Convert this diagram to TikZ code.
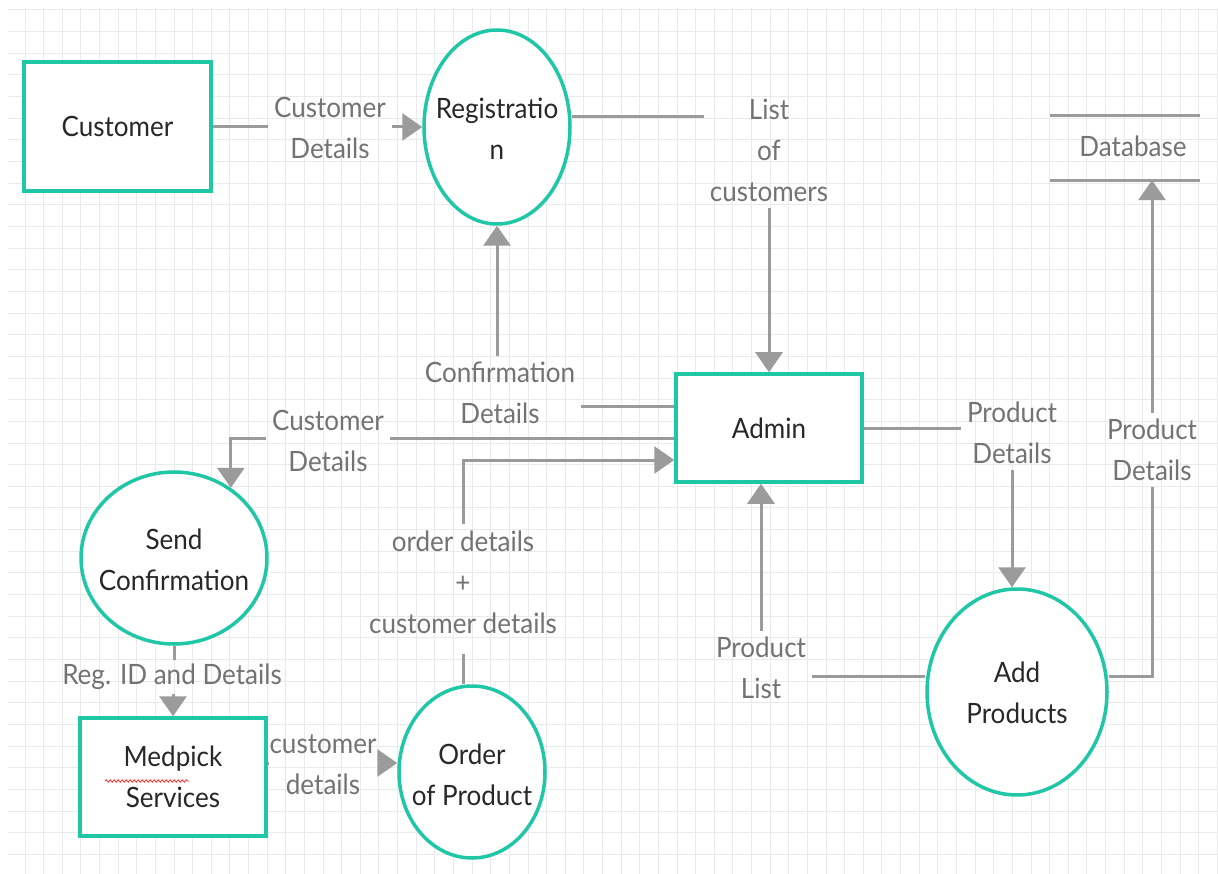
\documentclass[tikz,border=0pt]{standalone}
\usepackage{fontspec}
\setmainfont{Lato}[FakeStretch=0.93]
\usetikzlibrary{arrows.meta,shapes.geometric,decorations.pathmorphing}
\definecolor{teal1}{RGB}{32,199,166}
\definecolor{flowgrey}{RGB}{155,155,155}
\definecolor{labelgrey}{RGB}{115,115,115}
\definecolor{inkgrey}{RGB}{40,40,40}
\definecolor{gridgrey}{RGB}{234,234,234}

\begin{document}
\begin{tikzpicture}[x=1pt,y=-1pt,
  every node/.style={font=\fontsize{28}{41}\selectfont},
  entity/.style={draw=teal1, line width=3.5pt, fill=white, rectangle, inner sep=0pt, text=inkgrey, align=center},
  proc/.style={draw=teal1, line width=3.5pt, fill=white, ellipse, inner sep=0pt},
  ntext/.style={text=inkgrey, align=center, inner sep=0pt},
  flowlabel/.style={text=labelgrey, align=center, inner sep=6pt},
  store/.style={inner sep=0pt, minimum width=150pt, minimum height=64pt},
  flow/.style={draw=flowgrey, line width=3pt},
  arrowflow/.style={flow, -{Triangle[width=27pt,length=20pt]}},
  gridline/.style={draw=gridgrey, line width=1pt}
]
% canvas and grid
\fill[white] (0,0) rectangle (1218,874);
\useasboundingbox (0,0) rectangle (1218,874);
\foreach \i in {0,...,64} \draw[gridline] ({25+18.63*\i},8) -- ({25+18.63*\i},874);
\foreach \j in {0,...,39} \draw[gridline] (8,{10+21.65*\j}) -- (1218,{10+21.65*\j});

% external entities
\node[entity, minimum width=187pt, minimum height=129pt] (cust) at (117.5,126.5) {Customer};
\node[entity, minimum width=186pt, minimum height=108pt] (admin) at (769,428) {Admin};
\node[entity, minimum width=186pt, minimum height=118pt] (med) at (173,777) {Medpick\\Services};
\draw[red!75, line width=0.9pt, decorate, decoration={snake, amplitude=1.2pt, segment length=4pt}]
  (105,781) -- (189,781);

% processes
\node[proc, minimum width=146pt, minimum height=194pt] (reg) at (497,127) {};
\node[ntext] (regt) at (497,129) {Registratio\\n};
\node[proc, minimum width=186pt, minimum height=172pt] (send) at (174,558) {};
\node[ntext] (sendt) at (174,560) {Send\\Confirmation};
\node[proc, minimum width=146pt, minimum height=172pt] (order) at (472,772) {};
\node[ntext] (ordert) at (472,775) {Order\\of Product};
\node[proc, minimum width=180pt, minimum height=206pt] (add) at (1017,692) {};
\node[ntext] (addt) at (1017,693) {Add\\Products};

% data store
\node[store] (db) at (1125,148) {};
\node[text=labelgrey, inner sep=0pt] (dbt) at (1133,146) {Database};
\draw[flow] (db.north west) -- (db.north east);
\draw[flow] (db.south west) -- (db.south east);

% flow labels
\node[flowlabel] (lcd)  at (330,128) {Customer\\Details};
\node[flowlabel] (lloc) at (769,150) {List\\of\\customers};
\node[flowlabel] (lcon) at (500,393) {Confirmation\\Details};
\node[flowlabel] (lcd2) at (328,441) {Customer\\Details};
\node[flowlabel] (lod)  at (463,582) {order details\\+\\customer details};
\node[flowlabel, inner sep=4pt] (lreg) at (172,677) {Reg. ID and Details};
\node[flowlabel, inner sep=1pt] (lcd3) at (323,765) {customer\\details};
\node[flowlabel] (lpd)  at (1012,433) {Product\\Details};
\node[flowlabel] (lpl)  at (761,668) {Product\\List};
\node[flowlabel] (lpd2) at (1152,450) {Product\\Details};

% data flows
\draw[flow] (cust.east) -- (cust.east -| lcd.west);
\draw[arrowflow] (lcd.east |- reg.west) -- (reg.west);

\draw[flow] ([yshift=10pt]reg.east) -- ([yshift=10pt]reg.east -| lloc.west);
\draw[arrowflow] (lloc.south) -- (admin.north);

\draw[flow] ([yshift=22pt]admin.west) -- ([yshift=22pt]admin.west -| lcon.east);
\draw[arrowflow] (lcon.north -| reg.south) -- (reg.south);

\draw[flow] ([yshift=-10pt]admin.west) -- ([yshift=-10pt]admin.west -| lcd2.east);
\draw[arrowflow] ([yshift=-10pt]admin.west -| lcd2.west) -| (send.51);

\draw[flow] (lod.south |- order.north) -- ([yshift=-14pt]lod.south);
\draw[arrowflow] (lod.north) |- ([yshift=-32pt]admin.west);

\draw[flow] (send.south) -- (send.south |- lreg.north);
\draw[arrowflow] (lreg.south -| med.north) -- (med.north);

\draw[flow] ([yshift=14pt]med.east) -- ([yshift=14pt]med.east -| lcd3.west);
\draw[arrowflow] ([yshift=14pt]med.east -| lcd3.east) -- ([yshift=14pt]med.east -| order.west);

\draw[flow] (admin.east) -- (admin.east -| lpd.west);
\draw[arrowflow] (lpd.south) -- (lpd.south |- add.north);

\draw[flow] ([yshift=16pt]add.west) -- ([yshift=16pt]add.west -| lpl.east);
\draw[arrowflow] (lpl.north) -- (lpl.north |- admin.south);

\draw[flow] ([yshift=16pt]add.east) -| (lpd2.south);
\draw[arrowflow] (lpd2.north) -- (lpd2.north |- db.south);
\end{tikzpicture}
\end{document}
